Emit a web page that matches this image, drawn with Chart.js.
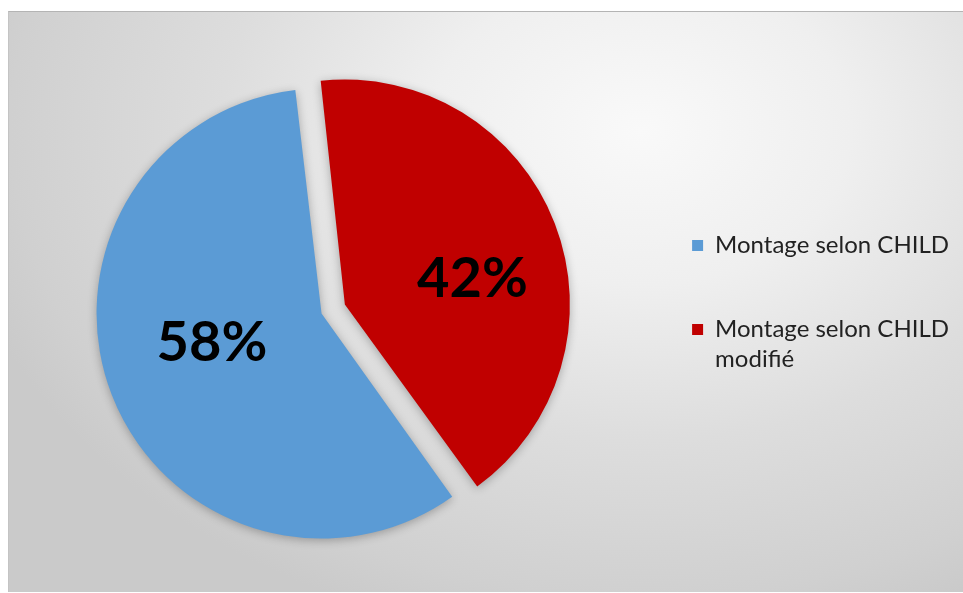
<!DOCTYPE html>
<html>
<head>
  <meta charset="utf-8">
  <script src="https://cdn.jsdelivr.net/npm/chart.js@4.4.1/dist/chart.umd.min.js"></script>
  <style>
    html, body { margin: 0; padding: 0; background: #fff; }
    #frame {
      position: absolute; left: 8px; top: 11px;
      width: 954px; height: 580px;
      border-top: 1px solid #b4b4b4;
      border-left: 1px solid #c4c4c4;
    }
    #frame canvas { display: block; }
  </style>
</head>
<body>
<div id="frame">
  <canvas id="pie" width="954" height="580" style="width:954px;height:580px"></canvas>
</div>

<script>
// legend entries (second one wraps onto two lines)
var categories = ['Montage selon CHILD', ['Montage selon CHILD', 'modifié']];
// share of each mounting, in percent
var shares = [58, 42];
var sliceColors = ['#5B9BD5', '#C00000'];
// the red slice is pulled out of the pie
var sliceOffsets = [0, 100];

// soft grey backdrop, lighter towards the upper middle
var backdrop = {
  id: 'backdrop',
  beforeDraw: function(chart) {
    var ctx = chart.ctx, w = chart.width, h = chart.height;
    var cx = 632, cy = 118, sy = 0.74;
    ctx.save();
    ctx.translate(cx, cy);
    ctx.scale(1, sy);
    var g = ctx.createRadialGradient(0, 0, 0, 0, 0, 700);
    g.addColorStop(0, '#f9f9f9');
    g.addColorStop(0.3, '#efefef');
    g.addColorStop(0.6, '#dddddd');
    g.addColorStop(0.9, '#d0d0d0');
    g.addColorStop(1, '#cacaca');
    ctx.fillStyle = g;
    ctx.fillRect(-cx, -cy / sy, w, h / sy);
    ctx.restore();
  }
};

// chart.js grows an offset arc's radius a little; keep it the same size as the rest
var keepRadius = {
  id: 'keepRadius',
  afterDatasetUpdate: function(chart, args) {
    args.meta.data.forEach(function(arc) {
      var shift = (arc.options.offset || 0) / 4;
      var fix = 1 - Math.sin(Math.min(Math.PI, arc.circumference));
      arc.outerRadius -= shift * fix;
    });
  }
};

// lift the legend column a little above the pie's middle
var legendNudge = {
  id: 'legendNudge',
  afterLayout: function(chart) {
    chart.legend.top -= 8;
    chart.legend.bottom -= 8;
  }
};

// faint shadow under the slices
var sliceShadow = {
  id: 'sliceShadow',
  beforeDatasetsDraw: function(chart) {
    var ctx = chart.ctx;
    ctx.save();
    ctx.shadowColor = 'rgba(0,0,0,0.28)';
    ctx.shadowBlur = 10;
    ctx.shadowOffsetY = 2;
  },
  afterDatasetsDraw: function(chart) {
    chart.ctx.restore();
  }
};

// big percentage inside each slice, a little clockwise of the middle;
// the pulled-out slice gets its label pushed further out
var sliceLabels = {
  id: 'sliceLabels',
  afterDraw: function(chart) {
    var ctx = chart.ctx;
    var meta = chart.getDatasetMeta(0);
    ctx.save();
    ctx.font = 'bold 56px Lato';
    ctx.fillStyle = '#000';
    ctx.textAlign = 'center';
    ctx.textBaseline = 'middle';
    meta.data.forEach(function(arc, i) {
      var mid = (arc.startAngle + arc.endAngle) / 2;
      var shift = (arc.options.offset || 0) / 4;
      var cx = arc.x + Math.cos(mid) * shift;
      var cy = arc.y + Math.sin(mid) * shift;
      var a = mid + 8 * Math.PI / 180;
      var dist = arc.outerRadius * 0.5 + shift * 1.0;
      // +4: digits sit a touch high on the 'middle' baseline
      ctx.fillText(shares[i] + '%', cx + Math.cos(a) * dist, cy + Math.sin(a) * dist + 4);
    });
    ctx.restore();
  }
};

var config = {
  type: 'pie',
  data: {
    labels: categories,
    datasets: [{
      data: shares,
      backgroundColor: sliceColors,
      borderWidth: 0,
      offset: sliceOffsets
    }]
  },
  options: {
    responsive: false,
    animation: false,
    rotation: 144.5,
    radius: 225,
    layout: {
      padding: { left: 2, top: 23, right: 4, bottom: 0 }
    },
    plugins: {
      legend: {
        position: 'right',
        labels: {
          boxWidth: 11,
          boxHeight: 11,
          padding: 60,
          color: '#222',
          font: { family: 'Lato', size: 24, lineHeight: 1.25 }
        }
      },
      tooltip: { enabled: false }
    }
  },
  plugins: [backdrop, keepRadius, legendNudge, sliceShadow, sliceLabels]
};

window.onload = function() {
  var ctx = document.getElementById('pie').getContext('2d');
  window.myPie = new Chart(ctx, config);
};
</script>
</body>
</html>
